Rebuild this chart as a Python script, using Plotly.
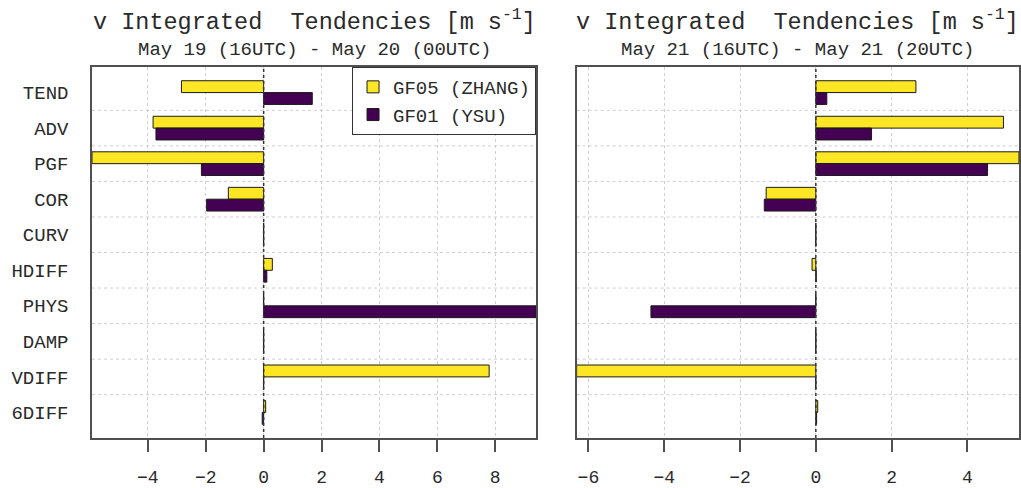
import plotly.graph_objects as go

# Budget terms of the integrated v-tendency, one group per term
categories = ["TEND", "ADV", "PGF", "COR", "CURV", "HDIFF", "PHYS", "DAMP", "VDIFF", "6DIFF"]
series_names = ["GF05 (ZHANG)", "GF01 (YSU)"]
series_colors = ["#FDE725", "#440154"]

# May 19 (16UTC) - May 20 (00UTC)
may19_gf05 = [-2.84, -3.82, -5.93, -1.22, 0.0, 0.30, 0.0, 0.0, 7.79, 0.07]
may19_gf01 = [1.68, -3.72, -2.15, -1.97, 0.0, 0.11, 9.41, 0.0, 0.0, -0.05]

# May 21 (16UTC) - May 21 (20UTC)
may21_gf05 = [2.64, 4.95, 5.36, -1.31, 0.0, -0.10, 0.0, 0.0, -6.31, 0.05]
may21_gf01 = [0.29, 1.47, 4.53, -1.36, 0.0, 0.01, -4.35, 0.0, 0.0, 0.02]

title_text = "v Integrated \u00a0Tendencies [m s<sup>-1</sup>]"
subtitles = ["May 19 (16UTC) - May 20 (00UTC)", "May 21 (16UTC) - May 21 (20UTC)"]

FONT = "Liberation Mono, Courier New, monospace"
TEXT = "#2a2a2a"
FRAME = "#505050"
GRID = "#cfcfcf"

W, H = 1021, 488
ML, MR, MT, MB = 92, 0, 67, 47
plot_w = W - ML - MR
left_dom = [0.0, 445 / plot_w]
right_dom = [(577.7 - ML) / plot_w, 1.0]

panels = [
    ("x", "y", may19_gf05, may19_gf01, left_dom),
    ("x2", "y2", may21_gf05, may21_gf01, right_dom),
]

fig = go.Figure()
for k, (xa, ya, v05, v01, dom) in enumerate(panels):
    for name, color, vals in zip(series_names, series_colors, [v05, v01]):
        fig.add_trace(go.Bar(
            x=vals, y=categories, orientation="h", name=name,
            marker=dict(color=color, line=dict(color="#1a1a1a", width=1)),
            xaxis=xa, yaxis=ya, showlegend=(k == 0),
        ))

# category axis padding as in a base-graphics barplot (4% of the bar span)
n = len(categories)
pad = ((3 * n - 1) * 0.04 + 1) / 3

axis_common_x = dict(
    showline=True, mirror=True, linecolor=FRAME, linewidth=1.5,
    ticks="outside", ticklen=12, tickwidth=1.5, tickcolor=FRAME,
    showgrid=True, gridcolor=GRID, griddash="dot", gridwidth=1,
    zeroline=False, dtick=2, tick0=0, ticklabelstandoff=10,
    tickfont=dict(family=FONT, size=18, color=TEXT),
)
axis_common_y = dict(
    type="category", categoryorder="array", categoryarray=categories,
    range=[n - 1 + pad, -pad], showline=True, mirror=True,
    linecolor=FRAME, linewidth=1.5, ticks="", showgrid=False,
    zeroline=False,
)

shapes = []
annotations = []
for k, (xa, ya, v05, v01, dom) in enumerate(panels):
    vals = v05 + v01
    xkey = "xaxis" if k == 0 else "xaxis2"
    ykey = "yaxis" if k == 0 else "yaxis2"
    fig.update_layout(**{
        xkey: dict(axis_common_x, domain=dom, range=[min(vals), max(vals)], anchor=ya),
        ykey: dict(axis_common_y, anchor=xa,
                   showticklabels=(k == 0), ticklabelstandoff=18,
                   tickfont=dict(family=FONT, size=19, color=TEXT)),
    })
    # dotted separators between term groups
    for i in range(n - 1):
        shapes.append(dict(type="line", xref=f"{xa} domain", yref=ya,
                           x0=0, x1=1, y0=i + 0.5, y1=i + 0.5, layer="below",
                           line=dict(color=GRID, width=1, dash="dot")))
    # zero reference line
    shapes.append(dict(type="line", xref=xa, yref=f"{ya} domain",
                       x0=0, x1=0, y0=0, y1=1, layer="above",
                       line=dict(color="#333333", width=1.5, dash="dot")))
    annotations.append(dict(text=title_text, xref=f"{xa} domain", yref="paper",
                            x=0.5, y=(H - MB - 20) / (H - MT - MB),
                            xanchor="center", yanchor="middle", showarrow=False,
                            font=dict(family=FONT, size=23.5, color=TEXT)))
    annotations.append(dict(text=subtitles[k], xref=f"{xa} domain", yref="paper",
                            x=0.5, y=(H - MB - 50) / (H - MT - MB),
                            xanchor="center", yanchor="middle", showarrow=False,
                            font=dict(family=FONT, size=19, color=TEXT)))

fig.update_layout(
    width=W, height=H,
    margin=dict(l=ML, r=MR, t=MT, b=MB),
    paper_bgcolor="white", plot_bgcolor="white",
    barmode="group", bargap=1 / 3, bargroupgap=0,
    shapes=shapes, annotations=annotations,
    legend=dict(x=left_dom[1], xanchor="right", y=1, yanchor="top",
                bgcolor="white", bordercolor="#333333", borderwidth=1,
                font=dict(family=FONT, size=19, color=TEXT),
                tracegroupgap=0, traceorder="normal"),
)

fig.write_html("out.html")
